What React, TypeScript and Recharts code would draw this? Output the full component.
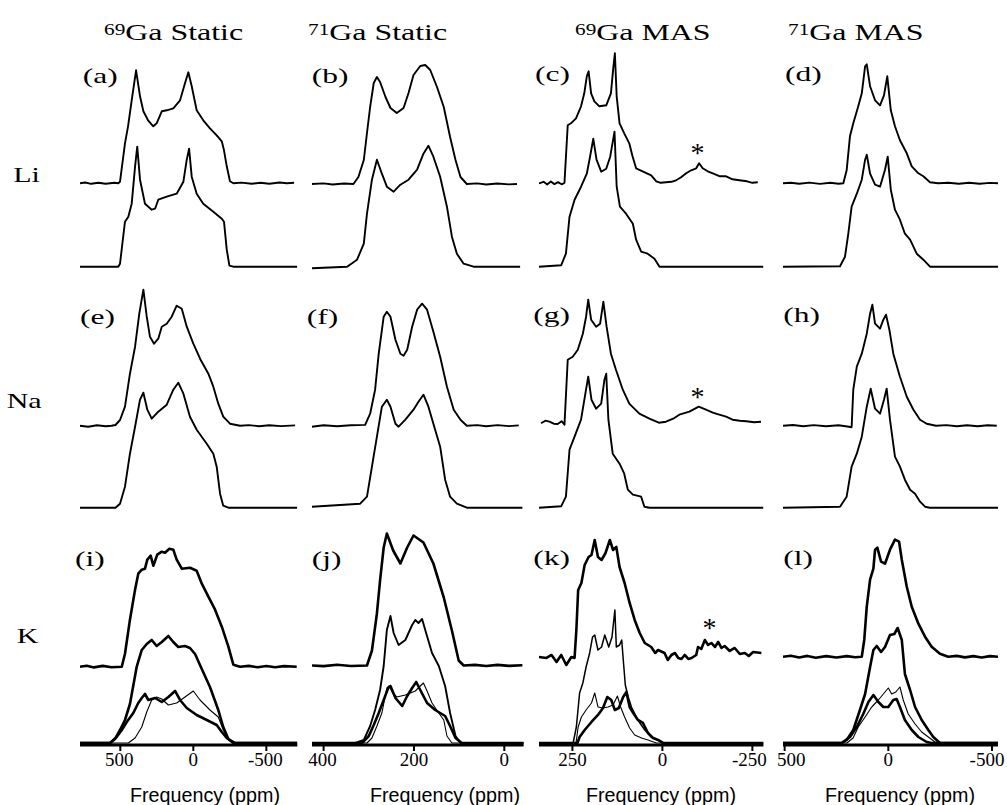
import React from 'react';
import { LineChart, Line, XAxis, YAxis } from 'recharts';

type P = [number, number];

// ---------- Column 1: 69Ga static ----------
const aExp: P[] = [[776,0],[740,0.8],[700,-0.5],[650,0.6],[600,-0.4],[540,0.5],[514,0],[502,1.6],[468,40],[447,57],[422,83],[392,113],[365,87],[342,72],[310,63],[274,57],[251,60],[216,72],[182,73],[137,75],[91,83],[57,100],[34,111],[11,97],[-23,73],[-68,63],[-114,55],[-160,48],[-195,42],[-210,33],[-229,17],[-251,2],[-274,0],[-330,0.7],[-400,-0.5],[-460,0.6],[-520,-0.4],[-590,0.8],[-640,0],[-690,0.5]];
const aSim: P[] = [[776,0],[514,0],[502,3],[468,45],[445,50],[422,63],[399,100],[384,120],[365,87],[331,63],[285,57],[262,58],[240,67],[182,70],[114,73],[68,85],[45,107],[29,118],[11,90],[-23,73],[-68,63],[-137,55],[-195,48],[-210,45],[-229,17],[-247,1],[-274,0],[-712,0]];
const eExp: P[] = [[776,0],[720,-1],[660,0.5],[600,-0.5],[560,0],[533,0.7],[502,5.7],[468,19],[434,52],[399,79],[370,112],[342,136],[319,109],[297,89],[269,82],[240,87],[216,99],[182,102],[148,109],[114,120],[79,117],[45,99],[0,82],[-46,67],[-103,52],[-137,39],[-171,22],[-205,9],[-251,2],[-320,0],[-380,0.6],[-450,-0.5],[-520,0.5],[-600,-0.4],[-697,0.3]];
const eSim: P[] = [[776,0],[533,0],[502,4],[468,21],[434,54],[399,81],[365,108],[342,115],[315,98],[285,89],[240,96],[182,103],[137,118],[103,125],[68,114],[23,91],[-23,78],[-92,64],[-137,54],[-160,41],[-183,14],[-205,2],[-240,0],[-712,0]];
const iExp: P[] = [[776,0],[730,1],[680,-0.7],[620,0.8],[560,-0.5],[490,0],[468,13],[434,47],[399,77],[377,93],[353,97],[331,98],[315,107],[292,111],[274,101],[247,112],[216,115],[194,114],[164,118],[137,117],[114,107],[79,98],[23,99],[-23,96],[-58,83],[-103,70],[-149,57],[-195,40],[-240,20],[-274,2],[-320,0],[-380,0.8],[-440,-0.6],[-500,0.7],[-560,-0.5],[-620,0.6],[-708,0]];
const iSim: P[] = [[776,0],[570,0],[536,4],[502,13],[468,23],[434,39],[388,76],[353,93],[319,99],[285,103],[251,97],[216,101],[171,107],[137,101],[103,96],[57,97],[23,95],[-12,89],[-58,74],[-114,56],[-171,33],[-205,16],[-240,4],[-286,0],[-712,0]];
const iSiteA: P[] = [[776,0],[570,0],[525,6],[490,13],[456,21],[411,30],[377,40],[353,45],[331,49],[308,43],[262,45],[216,41],[171,46],[125,52],[91,43],[45,35],[-23,28],[-92,23],[-160,18],[-195,11],[-229,5],[-274,0],[-712,0]];
const iSiteB: P[] = [[776,0],[445,0],[399,5],[353,16],[319,31],[285,43],[251,46],[216,44],[171,38],[114,40],[57,46],[0,52],[-46,43],[-114,33],[-171,26],[-205,13],[-240,4],[-286,0],[-712,0]];

// ---------- Column 2: 71Ga static ----------
const bExp: P[] = [[426,0],[400,0.6],[380,-0.5],[355,0.5],[334,0],[323,7],[311,24],[304,51],[297,77],[289,101],[282,107],[275,102],[263,87],[252,76],[238,71],[223,76],[212,91],[201,109],[186,118],[175,119],[164,114],[149,97],[134,77],[120,47],[108,24],[97,7],[83,0],[60,0.6],[40,-0.5],[15,0.5],[-10,-0.4],[-28,0]];
const bSim: P[] = [[426,-1.5],[348,0],[326,7],[311,23],[304,53],[293,87],[282,107],[271,93],[260,80],[245,75],[230,82],[212,87],[193,97],[179,113],[168,121],[157,110],[142,90],[127,60],[116,30],[105,13],[90,3],[68,0],[-35,0]];
const fExp: P[] = [[426,-1],[400,0.5],[370,-0.6],[340,0.5],[308,0.8],[297,12],[286,36],[278,72],[267,109],[260,114],[252,109],[241,86],[230,72],[223,70],[215,76],[204,99],[193,116],[182,122],[171,116],[157,94],[142,69],[127,39],[112,16],[97,6],[83,0],[60,0.6],[40,-0.5],[15,0.6],[-10,-0.4],[-32,0.3]];
const fSim: P[] = [[426,1],[319,4],[304,11],[293,41],[282,71],[271,101],[260,108],[252,101],[241,84],[234,81],[219,88],[201,98],[190,106],[179,113],[168,101],[157,84],[142,61],[131,28],[120,11],[105,4],[83,0],[-40,0]];
const jExp: P[] = [[426,0],[400,-0.6],[370,0.8],[340,-0.5],[304,0],[293,15],[282,52],[275,85],[267,118],[260,132],[246,115],[230,102],[215,118],[201,130],[179,123],[157,102],[134,68],[116,35],[101,5],[90,0],[65,0.6],[40,-0.5],[15,0.6],[-10,-0.4],[-40,0.3]];
const jSim: P[] = [[426,0],[330,0],[311,3],[297,17],[286,33],[275,53],[267,77],[260,113],[252,127],[245,110],[234,98],[219,103],[204,118],[197,123],[190,120],[182,124],[175,113],[160,90],[145,77],[131,57],[120,30],[108,7],[97,0],[-43,0]];
const jSiteA: P[] = [[426,0],[315,0],[300,7],[289,18],[278,30],[267,43],[257,55],[252,57],[241,45],[226,37],[215,47],[204,55],[195,61],[186,53],[171,40],[153,33],[131,27],[120,17],[108,5],[94,0],[-43,0]];
const jSiteB: P[] = [[426,0],[304,0],[293,5],[282,17],[271,30],[260,55],[255,57],[247,50],[238,46],[219,48],[197,52],[186,57],[179,60],[171,52],[160,40],[145,30],[134,23],[127,7],[116,0],[-43,0]];

// ---------- Column 3: 69Ga MAS ----------
const cExp: P[] = [[343,0],[330,1.5],[320,-1.2],[310,1.8],[300,-0.8],[290,1.2],[280,-1],[272,0.5],[263,58],[254,60],[240,65],[226,77],[217,90],[210,107],[205,112],[198,90],[189,82],[175,77],[156,78],[143,90],[136,117],[132,130],[127,87],[119,60],[106,50],[92,40],[83,27],[73,15],[55,12],[31,8],[17,2],[5,0.5],[-10,1],[-25,1.5],[-38,3],[-52,6],[-66,10],[-80,13],[-94,15],[-102,20],[-112,15],[-126,12],[-140,10],[-160,7],[-177,7],[-195,4],[-214,3],[-235,2],[-250,0.5],[-265,1]];
const cSim: P[] = [[343,0],[281,1.5],[268,13],[258,50],[244,67],[226,80],[210,93],[201,110],[192,128],[183,107],[170,95],[156,98],[145,110],[133,135],[127,80],[118,60],[101,53],[82,43],[73,27],[59,15],[41,13],[22,8],[8,0],[-281,0]];
const gExp: P[] = [[337,-1.6],[325,1],[314,0],[302,-2],[291,-2.3],[280,0.5],[272,-3],[263,62],[249,65],[235,72],[221,88],[212,105],[206,122],[198,102],[184,95],[173,98],[164,120],[155,95],[143,68],[129,52],[110,32],[92,18],[64,8],[36,3],[10,-1],[-10,0],[-30,3],[-47,7],[-75,10],[-101,15],[-121,12],[-140,9],[-158,7],[-177,5],[-195,2],[-215,1],[-233,0.5],[-255,-0.5],[-274,0]];
const gSim: P[] = [[343,0],[281,1.5],[268,11],[258,58],[244,71],[226,88],[214,114],[206,131],[197,108],[184,99],[170,104],[161,128],[156,134],[150,88],[138,54],[119,44],[106,34],[96,18],[82,13],[59,11],[50,1],[36,0],[-281,0]];
const kExp: P[] = [[343,0],[322,-1],[308,2],[294,-5],[281,2],[267,-8],[253,0],[244,-1],[239,27],[234,67],[225,74],[216,92],[205,100],[197,102],[188,117],[179,100],[169,97],[158,104],[146,117],[137,107],[128,110],[119,90],[105,74],[91,54],[77,37],[63,24],[49,14],[31,10],[20,4],[12,7],[-6,4],[-15,-3],[-25,2],[-35,4],[-44,-1],[-53,-2],[-62,2],[-72,-2],[-81,-1],[-94,2],[-99,10],[-108,8],[-118,17],[-127,12],[-136,14],[-146,10],[-155,15],[-164,9],[-173,11],[-187,6],[-201,9],[-215,3],[-229,4],[-240,1],[-252,5],[-275,4]];
const kSim: P[] = [[343,0],[248,0],[239,16],[230,50],[221,60],[212,76],[202,90],[194,106],[188,108],[179,93],[169,96],[160,108],[149,96],[140,106],[132,133],[128,96],[119,98],[113,103],[108,80],[103,58],[95,46],[86,36],[68,23],[49,13],[31,6],[12,3],[-2,0],[-281,0]];
const kSiteA: P[] = [[343,0],[240,0],[234,16],[225,26],[212,33],[197,40],[188,50],[179,36],[165,35],[151,36],[137,38],[125,47],[116,36],[105,26],[91,15],[77,8],[58,5],[40,3],[17,0],[-281,0]];
const kSiteB: P[] = [[343,0],[236,0],[230,6],[216,13],[197,21],[179,28],[165,35],[153,46],[142,43],[132,33],[121,35],[109,46],[100,51],[91,36],[81,30],[68,23],[54,20],[40,10],[26,5],[12,3],[-2,0],[-281,0]];

// ---------- Column 4: 71Ga MAS ----------
const dExp: P[] = [[508,0],[470,0.6],[430,-0.5],[380,0.7],[330,-0.6],[280,0.5],[240,-0.4],[217,0],[201,13],[185,47],[169,60],[145,77],[128,90],[112,117],[104,119],[88,97],[64,83],[40,78],[21,88],[5,107],[-12,73],[-32,57],[-56,43],[-89,30],[-113,17],[-145,10],[-169,7],[-201,1],[-240,0],[-290,0.6],[-340,-0.5],[-390,0.6],[-440,-0.5],[-490,0.4],[-529,0]];
const dSim: P[] = [[508,0],[233,0.5],[209,10],[193,33],[177,60],[152,73],[128,87],[112,107],[104,112],[88,93],[64,82],[40,80],[16,97],[3,110],[-12,77],[-32,57],[-56,47],[-80,33],[-105,27],[-137,13],[-169,7],[-201,0],[-529,0]];
const hExp: P[] = [[508,0],[460,0.7],[410,-0.5],[360,0.6],[300,-0.6],[240,0.5],[190,-1],[177,-1.5],[169,36],[152,59],[128,72],[104,92],[88,112],[77,121],[64,102],[40,97],[24,106],[11,111],[-5,96],[-24,72],[-56,49],[-89,29],[-121,16],[-153,6],[-185,2],[-230,0],[-280,0.6],[-330,-0.5],[-380,0.5],[-430,-0.5],[-480,0.5],[-523,0]];
const hSim: P[] = [[508,0],[233,1],[201,11],[177,41],[152,54],[128,71],[104,101],[85,119],[64,99],[40,94],[21,108],[8,119],[-8,88],[-32,51],[-56,41],[-80,28],[-105,18],[-129,14],[-153,6],[-177,1],[-200,0],[-529,0]];
const lExp: P[] = [[508,0],[470,1],[430,-0.8],[390,0.8],[350,-1],[300,0.6],[250,-0.8],[200,0.6],[160,-0.6],[128,0],[116,17],[104,50],[88,77],[72,88],[64,107],[53,109],[35,95],[16,93],[-8,107],[-32,117],[-52,115],[-65,97],[-89,70],[-113,50],[-145,33],[-177,20],[-209,10],[-249,3],[-289,0],[-330,0.8],[-370,-0.7],[-410,0.6],[-450,-0.8],[-490,0.6],[-529,0]];
const lSim: P[] = [[508,0],[225,0],[201,3],[169,13],[137,33],[112,49],[88,76],[72,93],[56,97],[35,91],[16,96],[-8,108],[-29,109],[-45,115],[-65,103],[-80,69],[-105,53],[-129,36],[-161,23],[-193,13],[-217,6],[-249,0],[-529,0]];
const lSiteA: P[] = [[508,0],[225,0],[185,6],[152,16],[121,29],[96,41],[72,48],[48,41],[24,36],[0,36],[-24,43],[-40,44],[-56,36],[-80,23],[-113,13],[-145,6],[-185,1],[-209,0],[-529,0]];
const lSiteB: P[] = [[508,0],[200,0],[170,5],[145,16],[112,26],[80,36],[48,43],[16,51],[0,55],[-16,49],[-36,51],[-56,56],[-72,43],[-96,29],[-129,19],[-161,11],[-193,6],[-225,1],[-249,0],[-529,0]];

// ---------- Tick labels ----------
const col1Ticks = [500, 0, -500];
const col2Ticks = [400, 200, 0];
const col3Ticks = [250, 0, -250];
const col4Ticks = [500, 0, -500];

// ---------- Layout (pixels) ----------
const AXIS_Y = 745;
const PLOT_TOP = 45;
const PAD = 26;

type Trace = { data: P[]; base: number; w: number };
type Col = { left: number; right: number; domain: [number, number]; ticks: number[]; labelShift: Record<string, number>; traces: Trace[] };

const THIN = 1.1, MID = 1.9, BOLD = 2.6;

const columns: Col[] = [
  { left: 80, right: 297.3, domain: [-712, 776], ticks: col1Ticks, labelShift: { '500': -1, '-500': -1 }, traces: [
    { data: aExp, base: 183.3, w: MID }, { data: aSim, base: 266.7, w: MID },
    { data: eExp, base: 425.7, w: MID }, { data: eSim, base: 507.7, w: MID },
    { data: iExp, base: 666.7, w: BOLD }, { data: iSim, base: 743, w: BOLD },
    { data: iSiteA, base: 743, w: BOLD }, { data: iSiteB, base: 743, w: THIN },
  ] },
  { left: 311.7, right: 523.3, domain: [-42.7, 425.7], ticks: col2Ticks, labelShift: { '400': -1 }, traces: [
    { data: bExp, base: 184, w: MID }, { data: bSim, base: 266.7, w: MID },
    { data: fExp, base: 425.7, w: MID }, { data: fSim, base: 507.7, w: MID },
    { data: jExp, base: 665.5, w: BOLD }, { data: jSim, base: 743, w: MID },
    { data: jSiteA, base: 743, w: BOLD }, { data: jSiteB, base: 743, w: THIN },
  ] },
  { left: 539.3, right: 763.7, domain: [-280.6, 342.8], ticks: col3Ticks, labelShift: { '-250': -3 }, traces: [
    { data: cExp, base: 183.3, w: MID }, { data: cSim, base: 266.7, w: MID },
    { data: gExp, base: 421.7, w: MID }, { data: gSim, base: 507.7, w: MID },
    { data: kExp, base: 657, w: BOLD }, { data: kSim, base: 743, w: 1.5 },
    { data: kSiteA, base: 743, w: THIN }, { data: kSiteB, base: 743, w: BOLD },
  ] },
  { left: 783.3, right: 998.3, domain: [-529, 508], ticks: col4Ticks, labelShift: { '500': 6.5, '-500': -5 }, traces: [
    { data: dExp, base: 183.3, w: MID }, { data: dSim, base: 266.7, w: MID },
    { data: hExp, base: 425.7, w: MID }, { data: hSim, base: 507.7, w: MID },
    { data: lExp, base: 656.7, w: BOLD }, { data: lSim, base: 743, w: BOLD },
    { data: lSiteA, base: 743, w: BOLD }, { data: lSiteB, base: 743, w: THIN },
  ] },
];

const SERIF = "'Liberation Serif', 'Times New Roman', Times, serif";
const SANS = "'Liberation Sans', Arial, Helvetica, sans-serif";

const toRows = (pts: P[], base: number) => pts.map(([x, h]) => ({ x, y: AXIS_Y - base + h }));

const titles = [
  { iso: '69', text: 'Ga Static', x: 104 },
  { iso: '71', text: 'Ga Static', x: 308 },
  { iso: '69', text: 'Ga MAS', x: 575 },
  { iso: '71', text: 'Ga MAS', x: 788 },
];
const panelLabels = [
  { t: '(a)', x: 82.7, y: 82.5 }, { t: '(b)', x: 311.7, y: 82.5 }, { t: '(c)', x: 535, y: 81 }, { t: '(d)', x: 785, y: 81 },
  { t: '(e)', x: 80, y: 324 }, { t: '(f)', x: 306.7, y: 324 }, { t: '(g)', x: 533.3, y: 322 }, { t: '(h)', x: 783.3, y: 322 },
  { t: '(i)', x: 75, y: 566 }, { t: '(j)', x: 311.7, y: 566 }, { t: '(k)', x: 533.3, y: 565 }, { t: '(l)', x: 783.3, y: 565 },
];
const rowLabels = [
  { t: 'Li', x: 13.3, y: 181.7 },
  { t: 'Na', x: 6.7, y: 408.3 },
  { t: 'K', x: 16.7, y: 643.3 },
];
const stars = [
  { x: 697.5, y: 149 },
  { x: 697.5, y: 392.5 },
  { x: 709.5, y: 624 },
];
const freqLabels = [130, 370, 586, 825];

const makeTick = (shift: Record<string, number>) => (props: any) => {
  const { x, y, payload } = props;
  const v = String(payload.value);
  return (
    <text x={x + (shift[v] || 0)} y={y} dy="0.71em" textAnchor="middle" fill="#000" fontSize={19} fontFamily={SERIF}>
      {v}
    </text>
  );
};

export default function App() {
  return (
    <div style={{ position: 'absolute', left: 0, top: 0, width: 1007, height: 805, background: '#fff', overflow: 'hidden' }}>
      {columns.map((c, ci) => {
        const plotW = c.right - c.left;
        return (
          <div key={ci} style={{ position: 'absolute', left: c.left - PAD, top: 0 }}>
            <LineChart width={plotW + 2 * PAD} height={805} margin={{ top: PLOT_TOP, right: PAD, bottom: 0, left: PAD }}>
              <XAxis
                type="number"
                dataKey="x"
                domain={c.domain}
                reversed
                allowDataOverflow
                ticks={c.ticks}
                interval={0}
                height={805 - AXIS_Y}
                tickSize={6}
                tickMargin={2}
                axisLine={{ stroke: '#000', strokeWidth: 3 }}
                tickLine={{ stroke: '#000', strokeWidth: 2 }}
                tick={makeTick(c.labelShift)}
              />
              <YAxis hide type="number" domain={[0, AXIS_Y - PLOT_TOP]} allowDataOverflow />
              {c.traces.map((t, ti) => (
                <Line
                  key={ti}
                  data={toRows(t.data, t.base)}
                  dataKey="y"
                  type="linear"
                  stroke="#000"
                  strokeWidth={t.w}
                  strokeLinejoin="round"
                  dot={false}
                  activeDot={false}
                  isAnimationActive={false}
                />
              ))}
            </LineChart>
          </div>
        );
      })}
      <svg width={1007} height={805} style={{ position: 'absolute', left: 0, top: 0, pointerEvents: 'none' }}>
        {titles.map((t, i) => (
          <text key={i} transform={`translate(${t.x},40) scale(1.33,1)`} fontFamily={SERIF} fontSize={24} fill="#000">
            <tspan fontSize={16} dy={-5}>{t.iso}</tspan>
            <tspan dy={5}>{t.text}</tspan>
          </text>
        ))}
        {panelLabels.map((p, i) => (
          <text key={i} transform={`translate(${p.x},${p.y}) scale(1.5,1)`} fontFamily={SERIF} fontSize={21} fill="#000">{p.t}</text>
        ))}
        {rowLabels.map((r, i) => (
          <text key={i} transform={`translate(${r.x},${r.y}) scale(1.5,1)`} fontFamily={SERIF} fontSize={20} fill="#000">{r.t}</text>
        ))}
        {stars.map((s, i) => (
          <text key={i} x={s.x} y={s.y + 13} textAnchor="middle" fontFamily={SERIF} fontSize={28} fill="#000">*</text>
        ))}
        {freqLabels.map((x, i) => (
          <text key={i} x={x} y={801.5} textLength={150} lengthAdjust="spacingAndGlyphs" fontFamily={SANS} fontSize={20} fill="#000">Frequency (ppm)</text>
        ))}
      </svg>
    </div>
  );
}
